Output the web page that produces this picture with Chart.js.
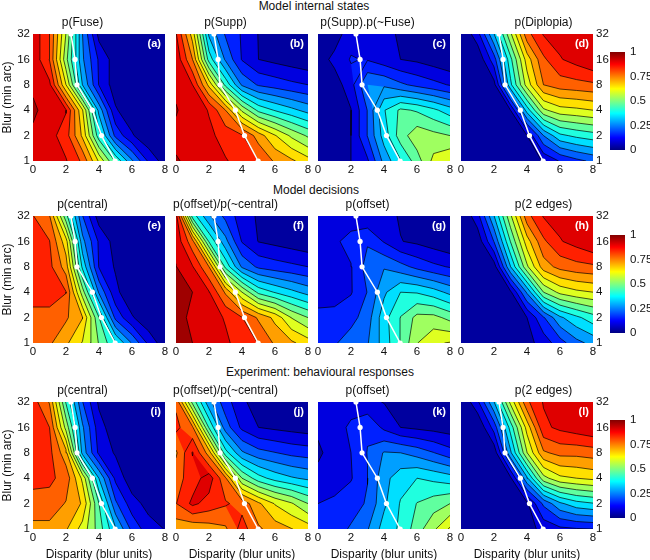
<!DOCTYPE html>
<html>
<head>
<meta charset="utf-8">
<title>Contours</title>
<script src="https://cdn.jsdelivr.net/npm/chart.js@4"></script>
<style>
body { margin: 0; background: #fff; }
#page { position: relative; width: 650px; height: 560px; overflow: hidden; font-family: "Liberation Sans", Arial, sans-serif; }
#page canvas { position: absolute; }
.head { position: absolute; width: 400px; text-align: center; font-size: 12px; line-height: 14px; color: #111; }
</style>
</head>
<body>
<div id="page"></div>
<script>
// axes of every contour panel
const disparity = [0, 1, 2, 3, 4, 5, 6, 7, 8];
const blur = [1, 2, 4, 8, 16, 32];
const levels = [1/16, 2/16, 3/16, 4/16, 5/16, 6/16, 7/16, 8/16, 9/16, 10/16, 11/16, 12/16, 13/16, 14/16, 15/16];
const barTicks = [0, 0.25, 0.5, 0.75, 1];

// white line: disparity at each blur
const lineDisparity = [4.98, 4.15, 3.6, 2.67, 2.55, 2.3];

// probability grids, one row per blur (1 first), one column per disparity
const pFuse = [
  [.91, .90, .88, .80, .615, .43, .26, .115, .03],
  [.93, .90, .84, .675, .40, .17, .07, .01, 0],
  [.945, .92, .88, .63, .29, .07, .02, 0, 0],
  [.93, .89, .625, .31, .12, .03, 0, 0, 0],
  [.92, .81, .52, .26, .115, .03, 0, 0, 0],
  [.92, .8125, .56, .25, .04, 0, 0, 0, 0]
];
const pSupp = [
  [.94, .93, .90, .88, .85, .8125, .74, .70, .65],
  [.93, .92, .89, .85, .82, .72, .63, .55, .49],
  [.94, .92, .87, .75, .55, .42, .37, .33, .29],
  [.93, .875, .67, .42, .24, .18, .16, .14, .125],
  [.92, .75, .41, .24, .12, .0625, .045, .03, .015],
  [.88, .66, .30, .18, .118, .06, .05, .04, .03]
];
const pSuppNotFuse = [
  [.005, .02, .0625, .115, .27, .37, .47, .58, .62],
  [.005, .02, .0625, .19, .34, .47, .54, .52, .50],
  [.005, .02, .06, .19, .37, .45, .43, .39, .34],
  [.01, .03, .10, .25, .24, .20, .17, .145, .12],
  [.03, .08, .13, .12, .09, .0625, .05, .03, .01],
  [.01, .03, .10, .12, .09, .05, .04, .03, .02]
];
const pDiplopia = [
  [0, 0, 0, 0, 0, .07, .13, .17, .20],
  [0, 0, 0, 0, .0625, .25, .36, .39, .41],
  [0, 0, 0, .0625, .34, .55, .60, .61, .625],
  [0, 0, .04, .36, .59, .75, .78, .79, .80],
  [0, .01, .16, .42, .655, .80, .87, .90, .935],
  [0, .10, .31, .55, .79, .88, .90, .91, .92]
];
const pCentralModel = [
  [.77, .76, .70, .62, .495, .38, .245, .11, .02],
  [.80, .80, .76, .69, .44, .17, .07, .01, 0],
  [.83, .83, .815, .53, .24, .08, .01, 0, 0],
  [.83, .83, .72, .36, .12, .055, 0, 0, 0],
  [.83, .815, .65, .27, .115, .035, 0, 0, 0],
  [.815, .755, .46, .19, .03, 0, 0, 0, 0]
];
const pOffsetRatioModel = [
  [.96, .9375, .92, .885, .85, .81, .74, .70, .655],
  [.95, .93, .90, .87, .815, .74, .67, .56, .50],
  [.96, .9375, .88, .74, .5625, .42, .37, .33, .29],
  [.94, .88, .75, .42, .24, .175, .155, .14, .125],
  [.92, .77, .43, .27, .12, .06, .045, .03, .015],
  [.90, .41, .26, .17, .09, .055, .045, .035, .025]
];
const pOffsetModel = [
  [.15, .18, .22, .245, .34, .44, .56, .615, .63],
  [.14, .14, .165, .22, .35, .44, .52, .52, .48],
  [.10, .105, .12, .19, .30, .375, .37, .34, .295],
  [.09, .10, .12, .215, .245, .21, .17, .14, .12],
  [.07, .11, .155, .18, .12, .065, .05, .03, .01],
  [.07, .08, .08, .075, .09, .055, .045, .035, .025]
];
const pEdgesModel = [
  [0, 0, 0, 0, .04, .09, .16, .23, .27],
  [0, 0, 0, 0, .0625, .18, .30, .36, .41],
  [0, 0, 0, .05, .26, .50, .58, .61, .625],
  [0, 0, .03, .31, .55, .72, .77, .79, .80],
  [0, .02, .19, .44, .66, .80, .87, .90, .935],
  [0, .10, .31, .55, .79, .88, .90, .91, .92]
];
const pCentralExp = [
  [.73, .73, .695, .60, .47, .32, .17, .09, .06],
  [.79, .79, .745, .68, .4375, .20, .09, .04, .02],
  [.83, .825, .79, .61, .31, .11, .02, 0, 0],
  [.84, .83, .71, .29, .11, .055, 0, 0, 0],
  [.83, .8125, .54, .26, .09, .02, 0, 0, 0],
  [.84, .745, .43, .19, .05, 0, 0, 0, 0]
];
const pOffsetRatioExp = [
  [.71, .70, .72, .74, .84, .76, .72, .69, .66],
  [.81, .89, .85, .82, .79, .70, .62, .57, .50],
  [.79, .84, .91, .76, .50, .40, .35, .32, .30],
  [.74, .88, .72, .40, .26, .21, .19, .17, .16],
  [.83, .76, .43, .22, .11, .0625, .05, .04, .03],
  [.80, .48, .27, .15, .08, .02, .02, .02, .02]
];
const pOffsetExp = [
  [.13, .16, .195, .245, .34, .385, .47, .55, .635],
  [.125, .14, .16, .195, .30, .38, .44, .47, .50],
  [.075, .09, .12, .185, .29, .35, .375, .36, .34],
  [.055, .08, .125, .19, .255, .25, .225, .19, .15],
  [.07, .09, .14, .18, .11, .0625, .05, .04, .03],
  [.07, .08, .09, .075, .06, .03, .02, .02, .02]
];
const pEdgesExp = [
  [0, 0, 0, 0, .04, .08, .11, .12, .125],
  [0, 0, 0, 0, .05, .20, .30, .35, .37],
  [0, 0, 0, .05, .30, .54, .61, .625, .64],
  [0, 0, .02, .30, .56, .74, .77, .77, .78],
  [0, 0, .15, .40, .65, .86, .89, .91, .93],
  [0, .11, .31, .58, .80, .88, .90, .91, .93]
];

const rowHeads = ['Model internal states', 'Model decisions', 'Experiment: behavioural responses'];
const panels = [
  { z: pFuse, title: 'p(Fuse)', tag: '(a)' },
  { z: pSupp, title: 'p(Supp)', tag: '(b)' },
  { z: pSuppNotFuse, title: 'p(Supp).p(~Fuse)', tag: '(c)' },
  { z: pDiplopia, title: 'p(Diplopia)', tag: '(d)' },
  { z: pCentralModel, title: 'p(central)', tag: '(e)' },
  { z: pOffsetRatioModel, title: 'p(offset)/p(~central)', tag: '(f)' },
  { z: pOffsetModel, title: 'p(offset)', tag: '(g)' },
  { z: pEdgesModel, title: 'p(2 edges)', tag: '(h)', noLine: true },
  { z: pCentralExp, title: 'p(central)', tag: '(i)' },
  { z: pOffsetRatioExp, title: 'p(offset)/p(~central)', tag: '(j)' },
  { z: pOffsetExp, title: 'p(offset)', tag: '(k)' },
  { z: pEdgesExp, title: 'p(2 edges)', tag: '(l)' }
];

const colX = [33, 176, 318, 461];
const rowY = [34, 216, 402];
const barY = [48, 231, 416];
const plotW = 132, plotH = 127, sideW = 33, topH = 20, bottomH = 33;
const font = '"Liberation Sans", Arial, sans-serif';
const textColor = '#111';
const page = document.getElementById('page');

function jet(t) {
  const c = v => Math.round(255 * Math.min(1, Math.max(0, 1.5 - Math.abs(4 * t - v))));
  return `rgb(${c(3)},${c(2)},${c(1)})`;
}

// point where a level crosses the edge between two grid corners (in grid units)
function cross(lv, a, b, za, zb) {
  const t = (lv - za) / (zb - za);
  return { c: a.c + t * (b.c - a.c), r: a.r + t * (b.r - a.r) };
}

function toData(p) {
  const r0 = Math.min(Math.floor(p.r), blur.length - 2);
  return { x: p.c, y: blur[r0] * Math.pow(blur[r0 + 1] / blur[r0], p.r - r0) };
}

function cellCorners(z, r, c) {
  return [
    { c: c, r: r, v: z[r][c] }, { c: c + 1, r: r, v: z[r][c + 1] },
    { c: c + 1, r: r + 1, v: z[r + 1][c + 1] }, { c: c, r: r + 1, v: z[r + 1][c] }
  ];
}

// contour line of one level as separate segments, gaps between them
function isoline(z, lv) {
  const out = [];
  for (let r = 0; r < blur.length - 1; r++) {
    for (let c = 0; c < disparity.length - 1; c++) {
      const q = cellCorners(z, r, c);
      const pts = [];
      q.forEach((a, i) => {
        const b = q[(i + 1) % 4];
        if ((a.v >= lv) !== (b.v >= lv)) pts.push(toData(cross(lv, a, b, a.v, b.v)));
      });
      for (let i = 0; i + 1 < pts.length; i += 2) {
        out.push(pts[i], pts[i + 1], { x: NaN, y: NaN });
      }
    }
  }
  return out;
}

// filled bands, painted from the lowest level up through the chart's scales
const bandPlugin = {
  id: 'bands',
  beforeDatasetsDraw(chart, args, opts) {
    const { ctx, chartArea: a, scales } = chart;
    const z = opts.z;
    ctx.save();
    ctx.beginPath();
    ctx.rect(a.left, a.top, a.width, a.height);
    ctx.clip();
    ctx.fillStyle = jet(0.5 / 16);
    ctx.fillRect(a.left, a.top, a.width, a.height);
    levels.forEach((lv, k) => {
      const path = new Path2D();
      for (let r = 0; r < blur.length - 1; r++) {
        for (let c = 0; c < disparity.length - 1; c++) {
          const q = cellCorners(z, r, c);
          const poly = [];
          q.forEach((p, i) => {
            const b = q[(i + 1) % 4];
            if (p.v >= lv) poly.push(p);
            if ((p.v >= lv) !== (b.v >= lv)) poly.push(cross(lv, p, b, p.v, b.v));
          });
          poly.forEach((p, i) => {
            const d = toData(p);
            const px = scales.x.getPixelForValue(d.x), py = scales.y.getPixelForValue(d.y);
            if (i === 0) path.moveTo(px, py); else path.lineTo(px, py);
          });
          if (poly.length) path.closePath();
        }
      }
      ctx.fillStyle = jet((k + 1.5) / 16);
      ctx.fill(path);
    });
    ctx.restore();
  },
  afterDatasetsDraw(chart, args, opts) {
    const { ctx, chartArea: a } = chart;
    ctx.save();
    ctx.fillStyle = '#fff';
    ctx.font = 'bold 11px ' + font;
    ctx.textAlign = 'right';
    ctx.textBaseline = 'middle';
    ctx.fillText(opts.tag, a.right - 4, a.top + 10);
    ctx.restore();
  }
};

function addCanvas(left, top, w, h) {
  const cv = document.createElement('canvas');
  cv.width = w;
  cv.height = h;
  cv.style.left = left + 'px';
  cv.style.top = top + 'px';
  cv.style.width = w + 'px';
  cv.style.height = h + 'px';
  page.appendChild(cv);
  return cv;
}

function drawPanel(panel, row, col) {
  const cv = addCanvas(colX[col] - sideW, rowY[row] - topH, plotW + 2 * sideW, plotH + topH + bottomH);
  const datasets = [];
  if (!panel.noLine) {
    datasets.push({
      data: lineDisparity.map((d, i) => ({ x: d, y: blur[i] })),
      showLine: true, borderColor: '#fff', borderWidth: 1.5,
      pointBackgroundColor: '#fff', pointBorderWidth: 0, pointRadius: 2.6, clip: 0
    });
  }
  levels.forEach(lv => {
    datasets.push({
      data: isoline(panel.z, lv), showLine: true, spanGaps: false,
      borderColor: 'rgba(0,0,0,0.85)', borderWidth: 0.8, pointRadius: 0, clip: 0
    });
  });
  new Chart(cv, {
    type: 'scatter',
    data: { datasets },
    plugins: [bandPlugin],
    options: {
      responsive: false,
      animation: false,
      layout: { padding: { left: col === 3 ? sideW : 0, right: col === 3 ? 0 : sideW } },
      plugins: {
        legend: { display: false },
        tooltip: { enabled: false },
        bands: { z: panel.z, tag: panel.tag },
        title: {
          display: true, text: panel.title, color: textColor,
          font: { family: font, size: 12, weight: 'normal', lineHeight: 1.25 },
          padding: { top: 1, bottom: 4 }
        }
      },
      scales: {
        x: {
          type: 'linear', min: 0, max: 8,
          afterFit: s => { s.height = bottomH; },
          border: { display: false },
          grid: { display: false, drawTicks: false },
          ticks: { stepSize: 2, padding: 2, maxRotation: 0, color: textColor, font: { family: font, size: 11.5 } },
          title: {
            display: row === 2, text: 'Disparity (blur units)', color: textColor,
            padding: 0, font: { family: font, size: 12 }
          }
        },
        y: {
          type: 'logarithmic', min: 1, max: 32,
          position: col === 3 ? 'right' : 'left',
          afterFit: s => { s.width = sideW; },
          afterBuildTicks: s => { s.ticks = blur.map(v => ({ value: v })); },
          border: { display: false },
          grid: { display: false, drawTicks: false },
          ticks: {
            display: col === 0 || col === 3, autoSkip: false, padding: 3,
            color: textColor, font: { family: font, size: 11.5 },
            callback: v => String(v)
          },
          title: {
            display: col === 0, text: 'Blur (min arc)', color: textColor,
            padding: 0, font: { family: font, size: 12 }
          }
        }
      }
    }
  });
}

function drawBar(row) {
  const cv = addCanvas(610, barY[row] - 8, 40, 106 + 16);
  new Chart(cv, {
    type: 'bar',
    data: {
      labels: [''],
      datasets: [{
        data: [1], barPercentage: 1, categoryPercentage: 1,
        backgroundColor: c => {
          const a = c.chart.chartArea;
          if (!a) return '#000';
          const g = c.chart.ctx.createLinearGradient(0, a.bottom, 0, a.top);
          for (let i = 0; i <= 16; i++) g.addColorStop(i / 16, jet(i / 16));
          return g;
        }
      }]
    },
    options: {
      responsive: false,
      animation: false,
      layout: { padding: { top: 8, bottom: 8 } },
      plugins: { legend: { display: false }, tooltip: { enabled: false } },
      scales: {
        x: { display: false },
        y: {
          position: 'right', min: 0, max: 1,
          afterFit: s => { s.width = 25; },
          afterBuildTicks: s => { s.ticks = barTicks.map(v => ({ value: v })); },
          border: { display: false },
          grid: { display: false, drawTicks: false },
          ticks: { padding: 5, color: textColor, font: { family: font, size: 11.5 }, callback: v => String(v) }
        }
      }
    }
  });
}

const headX = [314, 316, 320];
const headY = [-1, 183, 365];
rowHeads.forEach((h, i) => {
  const d = document.createElement('div');
  d.className = 'head';
  d.textContent = h;
  d.style.left = (headX[i] - 200) + 'px';
  d.style.top = headY[i] + 'px';
  page.appendChild(d);
});

panels.forEach((p, i) => drawPanel(p, Math.floor(i / 4), i % 4));
[0, 1, 2].forEach(drawBar);
</script>
</body>
</html>
